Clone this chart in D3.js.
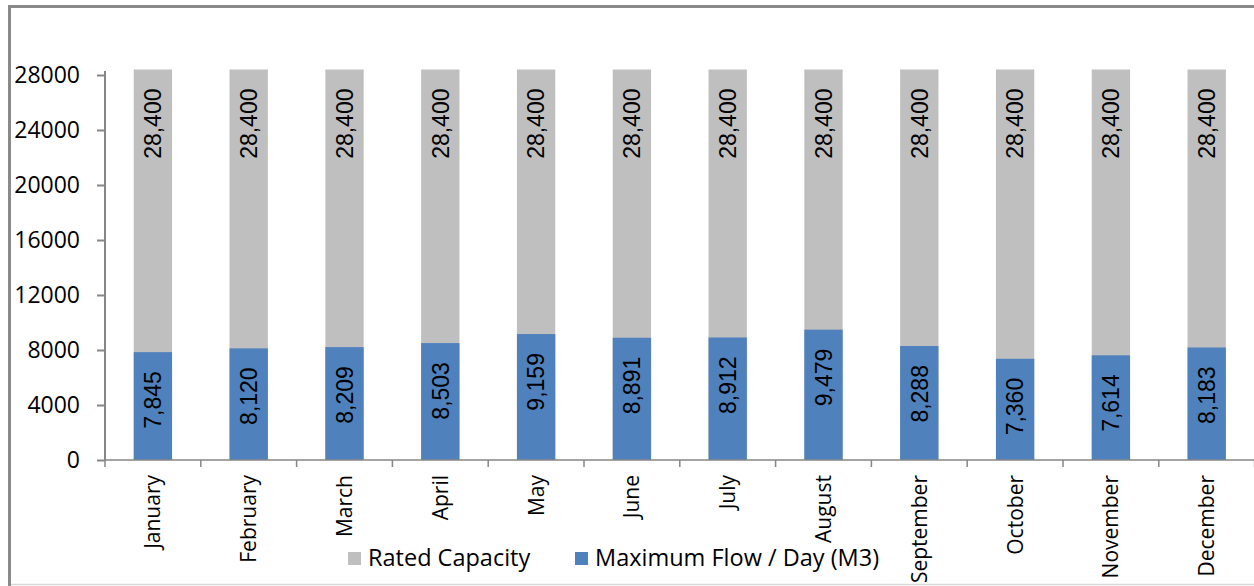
<!DOCTYPE html>
<html lang="en">
<head>
  <meta charset="UTF-8">
  <title>Rated capacity vs maximum flow</title>
  <style>
    body, html {
        margin: 0;
        padding: 0;
        background-color: #fff;
    }
    svg { display: block; }
  </style>
</head>
<body>
<svg id="chart" width="1254" height="586"></svg>
<script src="https://d3js.org/d3.v7.min.js"></script>
<script>
/* global d3 */
var months = ["January", "February", "March", "April", "May", "June",
  "July", "August", "September", "October", "November", "December"];
var ratedCapacity = [28400, 28400, 28400, 28400, 28400, 28400,
  28400, 28400, 28400, 28400, 28400, 28400];
var maxFlow = [7845, 8120, 8209, 8503, 9159, 8891, 8912, 9479, 8288, 7360, 7614, 8183];
var yTicks = [0, 4000, 8000, 12000, 16000, 20000, 24000, 28000];
var seriesNames = ["Rated Capacity", "Maximum Flow / Day (M3)"];
var colors = ["#bfbfbf", "#4f81bd"];

var svg = d3.select("#chart"),
  plotLeft = 105, plotRight = 1254.6, plotTop = 75, plotBottom = 460,
  labelFont = "Liberation Sans, Arial, sans-serif",
  textFont = "Open Sans, sans-serif",
  fmt = d3.format(",");

var x = d3.scaleBand()
  .domain(months)
  .range([plotLeft, plotRight])
  .paddingInner(0.6)
  .paddingOuter(0.3);

var y = d3.scaleLinear()
  .domain([0, 28000])
  .range([plotBottom, plotTop]);

// outer frame (left + top darker, bottom faint)
svg.append("line").attr("x1", 9.5).attr("x2", 9.5).attr("y1", 5).attr("y2", 586)
  .attr("stroke", "#8a8a8a").attr("stroke-width", 3);
svg.append("line").attr("x1", 8).attr("x2", 1254).attr("y1", 6.5).attr("y2", 6.5)
  .attr("stroke", "#8a8a8a").attr("stroke-width", 3);
svg.append("line").attr("x1", 11).attr("x2", 1254).attr("y1", 584.5).attr("y2", 584.5)
  .attr("stroke", "#d9d9d9").attr("stroke-width", 1.5);

// bars: rated capacity behind, max flow in front
var groups = [ratedCapacity, maxFlow];
groups.forEach(function (vals, s) {
  svg.append("g").selectAll("rect")
    .data(vals)
    .join("rect")
      .attr("x", function (d, i) { return x(months[i]); })
      .attr("width", x.bandwidth())
      .attr("y", function (d) { return y(d); })
      .attr("height", function (d) { return y(0) - y(d); })
      .attr("fill", colors[s]);
});

// data labels, rotated, anchored near the top of each bar
groups.forEach(function (vals) {
  svg.append("g").selectAll("text")
    .data(vals)
    .join("text")
      .attr("transform", function (d, i) {
        return "translate(" + (x(months[i]) + x.bandwidth() / 2) + "," + (y(d) + 19) + ") rotate(-90)";
      })
      .attr("text-anchor", "end")
      .attr("dy", "0.36em")
      .attr("font-family", labelFont)
      .attr("font-size", 23)
      .attr("fill", "#000")
      .text(function (d) { return fmt(d); });
});

// y axis
var yAxis = svg.append("g")
  .attr("transform", "translate(" + plotLeft + ",0)")
  .call(d3.axisLeft(y).tickValues(yTicks).tickSize(8).tickSizeOuter(0).tickPadding(17)
    .tickFormat(d3.format("d")));
yAxis.select(".domain").attr("stroke", "#868686").attr("stroke-width", 2)
  .attr("d", "M0," + (plotTop - 4) + "V" + plotBottom);
yAxis.selectAll(".tick line").attr("stroke", "#868686").attr("stroke-width", 2);
yAxis.selectAll(".tick text")
  .attr("font-family", textFont).attr("font-size", 23).attr("fill", "#000");

// x axis with ticks at category boundaries
var xAxisG = svg.append("g");
xAxisG.append("line")
  .attr("x1", plotLeft).attr("x2", 1254).attr("y1", plotBottom).attr("y2", plotBottom)
  .attr("stroke", "#868686").attr("stroke-width", 1.5);
xAxisG.selectAll("line.bnd")
  .data(d3.range(months.length + 1))
  .join("line")
    .attr("class", "bnd")
    .attr("x1", function (i) { return plotLeft + i * x.step(); })
    .attr("x2", function (i) { return plotLeft + i * x.step(); })
    .attr("y1", plotBottom).attr("y2", plotBottom + 7)
    .attr("stroke", "#868686").attr("stroke-width", 1.5);
xAxisG.selectAll("text")
  .data(months)
  .join("text")
    .attr("transform", function (d) {
      return "translate(" + (x(d) + x.bandwidth() / 2) + "," + (plotBottom + 15) + ") rotate(-90)";
    })
    .attr("text-anchor", "end")
    .attr("dy", "0.36em")
    .attr("font-family", textFont)
    .attr("font-size", 21)
    .attr("fill", "#000")
    .text(function (d) { return d; });

// legend
var legendX = [348, 575];
var legend = svg.append("g").selectAll("g")
  .data(seriesNames)
  .join("g")
    .attr("transform", function (d, i) { return "translate(" + legendX[i] + ",552)"; });
legend.append("rect").attr("width", 13).attr("height", 13)
  .attr("fill", function (d, i) { return colors[i]; });
legend.append("text")
  .attr("x", 20).attr("y", 14)
  .attr("font-family", textFont).attr("font-size", 23.5).attr("fill", "#000")
  .text(function (d) { return d; });
</script>
</body>
</html>
